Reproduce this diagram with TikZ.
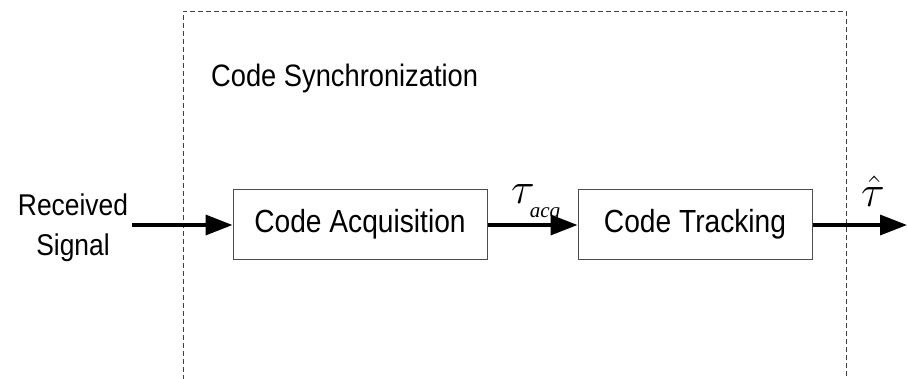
\RequirePackage{fix-cm}
\documentclass[tikz,border=0pt]{standalone}
\usepackage{fontspec}
\setmainfont{Liberation Sans}[FakeStretch=0.88]
\newfontfamily\tmsfont{Liberation Serif}
\usetikzlibrary{arrows.meta}

\tikzset{
  block/.style={draw=black!70, line width=1pt, inner sep=0pt,
    minimum height=70pt, font=\fontsize{32}{36}\selectfont},
  sig/.style={line width=3.5pt, -{Triangle[length=27pt,width=20pt]}},
  frame/.style={draw=black!75, line width=1pt, dash pattern=on 5pt off 3pt},
  lbl/.style={font=\fontsize{31}{35}\selectfont, inner sep=0pt},
  sym/.style={inner sep=0pt, font=\fontsize{44}{46}\selectfont},
}

\begin{document}
\begin{tikzpicture}[x=1pt, y=-1pt]
  \useasboundingbox (0,0) rectangle (907,378);

  % open dashed enclosure of the synchronization stage
  \draw[frame] (183,380) -- (183,11) -- (846,11) -- (846,380);
  \node[lbl, anchor=base west] (title) at (211,86) {Code Synchronization};

  % processing blocks
  \node[block, minimum width=254pt] (acq) at (360,224) {Code Acquisition};
  \node[block, minimum width=234pt] (trk) at (695,224) {Code Tracking};

  % input and output
  \node[font=\fontsize{30}{40}\selectfont, align=center, inner sep=0pt] (rx) at (73,228) {Received\\Signal};
  \coordinate (in) at (132,225);
  \coordinate (out) at (907,225);

  \draw[sig] (in) -- (acq.west |- in);
  \draw[sig] (acq.east |- in) -- (trk.west |- in);
  \draw[sig] (trk.east |- in) -- (out);

  % signal labels
  \node[sym, anchor=base west] (tacq) at (511,203)
    {$\tau$\hspace{-5pt}\raisebox{-14pt}{\fontsize{21}{22}\selectfont\tmsfont\itshape acq}};
  \node[sym, anchor=base] (that) at (873,206) {$\hat{\tau}$};
\end{tikzpicture}
\end{document}
